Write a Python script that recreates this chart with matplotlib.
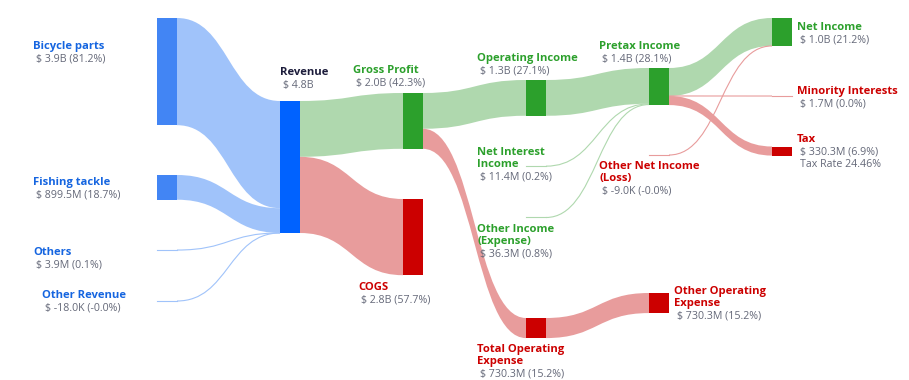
import matplotlib.pyplot as plt
from matplotlib.path import Path
from matplotlib.patches import PathPatch

plt.rcParams['font.family'] = ['Open Sans', 'DejaVu Sans']

# nodes: name, value ($M), value label, kind
names = ['Bicycle parts', 'Fishing tackle', 'Others', 'Other Revenue',
         'Revenue', 'Gross Profit', 'COGS',
         'Operating Income', 'Total Operating\nExpense', 'Net Interest\nIncome', 'Other Income\n(Expense)',
         'Pretax Income', 'Other Operating\nExpense', 'Other Net Income\n(Loss)',
         'Net Income', 'Minority Interests', 'Tax']
values = [3900, 899.5, 3.9, -0.018,
          4803.4, 2031, 2772.4,
          1301.5, 730.3, 11.4, 36.3,
          1349.2, 730.3, -0.009,
          1017.2, 1.7, 330.3]
value_labels = ['$ 3.9B (81.2%)', '$ 899.5M (18.7%)', '$ 3.9M (0.1%)', '$ -18.0K (-0.0%)',
                '$ 4.8B', '$ 2.0B (42.3%)', '$ 2.8B (57.7%)',
                '$ 1.3B (27.1%)', '$ 730.3M (15.2%)', '$ 11.4M (0.2%)', '$ 36.3M (0.8%)',
                '$ 1.4B (28.1%)', '$ 730.3M (15.2%)', '$ -9.0K (-0.0%)',
                '$ 1.0B (21.2%)', '$ 1.7M (0.0%)', '$ 330.3M (6.9%)\nTax Rate 24.46%']
kinds = ['src', 'src', 'src', 'src',
         'rev', 'pos', 'neg',
         'pos', 'neg', 'pos', 'pos',
         'pos', 'neg', 'neg',
         'pos', 'neg', 'neg']

# links (source index, target index, value $M), in stacking order
link_src = [0, 1, 2, 3, 4, 4, 5, 5, 7, 9, 10, 8, 11, 11, 11, 13]
link_dst = [4, 4, 4, 4, 5, 6, 7, 8, 11, 11, 11, 12, 14, 15, 16, 14]
link_val = [3900, 899.5, 3.9, -0.018, 2031, 2772.4, 1301.5, 730.3, 1301.5, 11.4, 36.3, 730.3,
            1017.2, 1.7, 330.3, -0.009]

# layout (pixels)
col = [0, 0, 0, 0, 1, 2, 2, 3, 3, 3, 3, 4, 4, 4, 5, 5, 5]
top = [18, 175, 250, 301, 101, 93, 199, 80, 318, 166, 217, 68, 293, 155, 18, 96, 146.5]
col_x = [157, 280, 403, 526, 649, 772]
node_w = 20
scale = 132 / 4803.4

label_pos = {0: (33, 46), 1: (33, 182), 2: (33, 252), 3: (42, 295), 4: (280, 72),
             5: (353, 70), 6: (358, 287), 7: (477, 58), 8: (477, 349), 9: (477, 152),
             10: (477, 229), 11: (599, 46), 12: (674, 291), 13: (599, 166),
             14: (797, 27), 15: (797, 91), 16: (797, 139)}

node_col = {'src': '#4285f4', 'rev': '#0062ff', 'pos': '#2ca02c', 'neg': '#cc0000'}
flow_col = {'src': '#a0c3fa', 'rev': '#afd8ae', 'pos': '#afd8ae', 'neg': '#e89c9c'}
text_col = {'src': '#1565e0', 'rev': '#1b1b3a', 'pos': '#2ca02c', 'neg': '#cc0000'}

fig = plt.figure(figsize=(9.09, 3.8), dpi=100)
ax = fig.add_axes([0, 0, 1, 1])
ax.set_xlim(0, 909)
ax.set_ylim(380, 0)
ax.axis('off')


def ribbon(x0, a0, b0, x1, a1, b1, color):
    xm = (x0 + x1) / 2
    if b0 - a0 < 1:
        y0 = (a0 + b0) / 2
        y1 = (a1 + b1) / 2
        p = Path([(x0, y0), (xm, y0), (xm, y1), (x1, y1)],
                 [Path.MOVETO, Path.CURVE4, Path.CURVE4, Path.CURVE4])
        ax.add_patch(PathPatch(p, fill=False, edgecolor=color, lw=0.8))
        return
    verts = [(x0, a0), (xm, a0), (xm, a1), (x1, a1), (x1, b1), (xm, b1), (xm, b0), (x0, b0), (x0, a0)]
    codes = [Path.MOVETO, Path.CURVE4, Path.CURVE4, Path.CURVE4, Path.LINETO,
             Path.CURVE4, Path.CURVE4, Path.CURVE4, Path.CLOSEPOLY]
    ax.add_patch(PathPatch(Path(verts, codes), facecolor=color, edgecolor='none'))


out_off = [0.0] * len(names)
in_off = [0.0] * len(names)
for s, d, v in zip(link_src, link_dst, link_val):
    h = abs(v) * scale
    a0 = top[s] + out_off[s]
    a1 = top[d] + in_off[d]
    out_off[s] += h
    in_off[d] += h
    if kinds[s] == 'src':
        c = flow_col['src']
    elif kinds[d] == 'neg' or kinds[s] == 'neg':
        c = flow_col['neg']
    else:
        c = flow_col['pos']
    ribbon(col_x[col[s]] + node_w, a0, a0 + h, col_x[col[d]], a1, a1 + h, c)

line_h = 12.3
for i, n in enumerate(names):
    h = abs(values[i]) * scale
    x = col_x[col[i]]
    if h < 1:
        ax.plot([x, x + node_w], [top[i], top[i]], color=flow_col[kinds[i]], lw=0.8)
    else:
        ax.bar(x, h, width=node_w, bottom=top[i], align='edge', color=node_col[kinds[i]])
    lx, ly = label_pos[i]
    nl = n.count('\n')
    ax.text(lx, ly - line_h / 2 + 1.5, n, color=text_col[kinds[i]], fontsize=8.1, fontweight='bold',
            va='top', ha='left', linespacing=1.08)
    ax.text(lx + 3, ly + line_h * (nl + 1) - line_h / 2 + 1.5, value_labels[i], color='#646878',
            fontsize=7.7, va='top', ha='left', linespacing=1.12)

fig.savefig('out.png', dpi=100)
